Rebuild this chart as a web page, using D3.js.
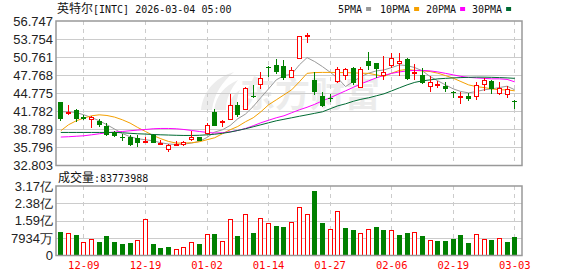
<!DOCTYPE html>
<html>
<head>
<meta charset="utf-8">
<script src="https://cdn.jsdelivr.net/npm/d3@7"></script>
<style>
  body { margin: 0; background: #fff; }
  svg { display: block; }
</style>
</head>
<body>
<div id="chart"></div>
<script>
// trading days shown on the chart
var dates = ["12-04","12-05","12-08","12-09","12-10","12-11","12-12","12-15","12-16","12-17",
  "12-18","12-19","12-22","12-23","12-24","12-26","12-29","12-30","12-31","01-02",
  "01-05","01-06","01-07","01-08","01-09","01-12","01-13","01-14","01-15","01-16",
  "01-20","01-21","01-22","01-23","01-26","01-27","01-28","01-29","01-30","02-02",
  "02-03","02-04","02-05","02-06","02-09","02-10","02-11","02-12","02-13","02-17",
  "02-18","02-19","02-20","02-23","02-24","02-25","02-26","02-27","03-02","03-03"];

var open  = [43.30,41.31,41.92,40.87,40.32,40.21,39.38,38.34,37.56,37.56,37.34,36.74,37.78,36.40,35.41,36.13,36.13,36.95,37.45,38.06,
  41.75,39.99,40.32,42.75,41.97,44.34,46.11,49.08,49.47,49.30,47.38,50.52,54.32,46.99,44.40,44.07,46.71,47.71,49.03,45.72,
  50.19,49.75,47.60,49.30,49.69,50.46,48.20,47.82,45.89,46.00,46.05,45.00,44.18,44.34,44.23,46.16,46.82,44.62,44.51,43.52];
var high  = [43.35,42.75,42.14,41.20,41.04,40.43,39.77,38.55,38.00,37.78,37.78,37.56,38.00,37.00,36.35,36.79,36.90,38.44,37.56,39.82,
  42.20,40.38,44.73,43.30,45.89,46.16,48.37,49.30,50.46,50.30,49.20,54.32,54.71,48.26,44.95,44.68,49.20,49.03,49.20,49.20,
  51.67,49.86,51.00,51.51,51.40,50.68,49.58,48.92,47.65,46.82,46.71,45.17,44.95,44.78,46.71,47.38,46.93,46.60,45.94,43.63];
var low   = [40.21,41.25,39.99,40.27,39.00,39.22,37.67,37.45,36.90,36.07,35.80,36.63,36.46,36.13,35.03,36.02,36.02,36.90,36.79,38.00,
  39.38,39.16,40.27,40.76,41.92,43.96,45.50,47.43,47.93,46.93,47.27,50.41,53.16,44.51,42.42,43.30,46.55,47.05,46.16,45.61,
  48.59,47.27,46.93,48.92,47.71,46.99,47.05,46.33,45.06,45.61,44.95,44.07,42.97,43.52,43.68,45.17,44.62,44.51,44.07,42.20];
var close = [40.54,41.64,40.49,40.59,40.76,39.55,37.90,37.67,37.45,36.13,36.46,36.90,36.55,36.48,36.24,36.41,36.68,37.45,36.90,39.50,
  39.40,40.10,42.75,41.20,45.67,44.18,47.32,48.97,48.37,47.27,48.59,54.27,54.43,45.06,42.58,43.96,48.85,48.75,46.50,48.81,
  49.30,48.81,48.26,50.57,50.19,47.16,48.37,46.44,46.71,46.27,45.50,44.84,44.29,43.85,46.16,46.93,45.50,45.61,45.50,43.30];
var prevClose = 41.20;

// volume, in 亿 shares
var volume = [1.085,1.03,0.95,0.62,0.74,0.63,0.89,0.63,0.52,0.57,0.69,1.65,0.52,0.34,0.39,0.28,0.37,0.62,0.52,0.98,
  1.00,0.66,1.65,0.89,1.89,1.04,1.71,1.48,1.35,1.30,1.51,2.20,1.89,2.94,1.48,1.19,2.02,1.25,1.16,1.01,
  1.19,1.30,1.16,1.15,0.93,1.03,1.06,0.89,0.69,0.66,0.66,0.75,0.93,0.57,0.97,0.74,0.71,0.78,0.62,0.8377];

var ma5  = [41.70,41.70,41.58,41.20,40.76,40.21,39.55,38.84,38.11,37.57,37.24,37.07,36.90,36.57,36.36,36.29,36.36,36.52,36.79,37.45,
  38.34,38.72,39.43,40.54,41.32,42.57,44.06,45.50,46.99,47.70,47.93,49.47,50.68,50.02,49.19,48.26,47.27,45.88,46.71,47.54,
  48.10,48.48,48.64,49.03,49.47,49.36,49.03,48.48,47.54,46.83,46.16,45.50,45.06,44.84,45.06,45.34,45.50,45.72,45.95,45.34];
var ma10 = [38.56,39.55,40.21,40.66,41.04,41.20,41.09,40.82,40.38,39.83,39.10,38.44,37.78,37.24,36.79,36.52,36.52,36.57,36.74,37.07,
  37.40,38.06,38.72,39.27,40.05,40.71,41.70,42.86,43.68,44.51,45.34,46.66,48.07,48.20,48.23,48.23,48.20,48.20,48.15,48.10,
  48.07,47.82,47.57,48.10,48.56,48.73,48.56,48.48,48.37,48.10,47.70,47.27,46.71,46.16,45.88,45.72,45.50,45.34,45.34,45.17];
var ma20 = [37.52,37.57,37.65,37.73,37.89,38.06,38.23,38.34,38.44,38.56,38.67,38.77,38.89,38.94,38.94,38.89,38.77,38.61,38.44,38.28,
  38.18,38.23,38.39,38.61,38.94,39.39,39.88,40.30,40.71,41.04,41.54,42.03,42.45,42.94,43.52,44.02,44.60,45.17,45.75,46.33,
  46.83,47.32,47.74,48.07,48.31,48.48,48.56,48.56,48.48,48.31,48.07,47.82,47.57,47.41,47.32,47.24,47.16,47.16,47.07,46.66];
var ma30 = [38.28,38.28,38.28,38.28,38.28,38.28,38.28,38.28,38.23,38.14,38.06,38.01,37.94,37.89,37.85,37.81,37.78,37.78,37.81,37.89,
  37.98,38.14,38.34,38.61,38.89,39.22,39.55,39.88,40.21,40.46,40.71,40.96,41.20,41.45,41.70,42.20,42.69,43.02,43.44,43.77,
  44.02,44.35,44.68,45.17,45.67,46.16,46.58,46.83,46.99,47.16,47.24,47.32,47.37,47.41,47.44,47.44,47.41,47.37,47.32,47.24];

var priceTicks = [32.803,35.796,38.789,41.782,44.775,47.768,50.761,53.754,56.747];
var volTicks = [0,0.7934,1.59,2.38,3.17];
var volTickLabels = ["0","7934万","1.59亿","2.38亿","3.17亿"];
var dateTicks = ["12-09","12-19","01-02","01-14","01-27","02-06","02-19","03-03"];

var maSeries = [
  {name: "5PMA",  values: ma5,  color: "#999999"},
  {name: "10PMA", values: ma10, color: "#f5a000"},
  {name: "20PMA", values: ma20, color: "#ff00ff"},
  {name: "30PMA", values: ma30, color: "#006a33"}
];

var RED = "#ff0000", GREEN = "#008000", GRID = "#cccccc", FRAME = "#999999";
var mono = "'DejaVu Sans Mono', monospace";
var cjk = "'Noto Sans CJK SC', sans-serif";
var axisFont = "'Liberation Sans', Arial, sans-serif";

var W = 578, H = 276;
var left = 56, right = 522;
var priceTop = 21, priceBottom = 165.5;
var volTop = 186, volBottom = 255.5;

var svg = d3.select("#chart").append("svg")
    .attr("width", W)
    .attr("height", H);

var x = d3.scalePoint().domain(dates).range([60.3, 514.3]);
var y = d3.scaleLinear().domain([32.803, 56.747]).range([priceBottom, priceTop]);
var yv = d3.scaleLinear().domain([0, 3.17]).range([volBottom, volTop]);

function px(d) { return Math.round(x(d)); }

// ---- title & legend
var title = svg.append("text").attr("x", 57).attr("y", 13).attr("fill", "#111");
title.append("tspan").style("font-family", cjk).style("font-size", "12px").text("英特尔");
title.append("tspan").style("font-family", mono).style("font-size", "10px").text("[INTC] 2026-03-04 05:00");

var legendX = [338, 380, 426, 472];
maSeries.forEach(function(s, i) {
  svg.append("text")
    .attr("x", legendX[i]).attr("y", 13)
    .style("font-family", mono).style("font-size", "10px")
    .attr("fill", "#111")
    .text(s.name);
  svg.append("rect")
    .attr("x", legendX[i] + s.name.length * 6.02 + 4).attr("y", 7)
    .attr("width", 5).attr("height", 4)
    .attr("fill", s.color);
});

// ---- watermark (logo + name)
var wm = svg.append("g").attr("fill", "#ececec");
wm.append("path").attr("d", "M201,110 C203,92 214,78 234,72 C222,82 214,94 212,110 Z");
wm.append("path").attr("d", "M214,110 C216,96 224,86 238,80 C230,90 226,99 226,110 Z");
wm.append("path").attr("d", "M228,110 C229,101 233,94 240,90 C237,97 236,103 237,110 Z");
wm.append("text")
  .attr("x", 240).attr("y", 107)
  .style("font-family", cjk).style("font-size", "35px").style("font-weight", "bold")
  .text("东方财富");

// ---- price panel grid
var gp = svg.append("g");
gp.selectAll("line.h").data(priceTicks.slice(1, -1)).enter().append("line")
  .attr("x1", left).attr("x2", right)
  .attr("y1", function(d) { return Math.round(y(d)) + 0.5; })
  .attr("y2", function(d) { return Math.round(y(d)) + 0.5; })
  .attr("stroke", GRID);
gp.selectAll("line.v").data(dateTicks).enter().append("line")
  .attr("x1", function(d) { return px(d) + 0.5; })
  .attr("x2", function(d) { return px(d) + 0.5; })
  .attr("y1", priceTop).attr("y2", priceBottom)
  .attr("stroke", GRID).attr("stroke-dasharray", "4,4");

// ---- volume panel grid
var gv = svg.append("g");
gv.selectAll("line.h").data(volTicks.slice(1, -1)).enter().append("line")
  .attr("x1", left).attr("x2", right)
  .attr("y1", function(d) { return Math.round(yv(d)) + 0.5; })
  .attr("y2", function(d) { return Math.round(yv(d)) + 0.5; })
  .attr("stroke", GRID);
gv.selectAll("line.v").data(dateTicks).enter().append("line")
  .attr("x1", function(d) { return px(d) + 0.5; })
  .attr("x2", function(d) { return px(d) + 0.5; })
  .attr("y1", volTop).attr("y2", volBottom)
  .attr("stroke", GRID).attr("stroke-dasharray", "4,4");

// ---- axes
var yAxis = svg.append("g")
  .attr("transform", "translate(" + (left - 3) + ",0)")
  .call(d3.axisLeft(y).tickValues(priceTicks).tickSize(0).tickPadding(0).tickFormat(d3.format(".3f")));
yAxis.select(".domain").remove();
yAxis.selectAll("text").style("font-family", axisFont).style("font-size", "13px").attr("fill", "#222");

var vAxis = svg.append("g")
  .attr("transform", "translate(" + (left - 3) + ",0)")
  .call(d3.axisLeft(yv).tickValues(volTicks).tickSize(0).tickPadding(0)
    .tickFormat(function(d, i) { return volTickLabels[i]; }));
vAxis.select(".domain").remove();
vAxis.selectAll("text").style("font-family", axisFont).style("font-size", "13px").attr("fill", "#222");

var xAxis = svg.append("g")
  .attr("transform", "translate(0," + (volBottom + 6) + ")")
  .call(d3.axisBottom(x).tickValues(dateTicks).tickSize(0).tickPadding(0));
xAxis.select(".domain").remove();
xAxis.selectAll("text").style("font-family", mono).style("font-size", "10.5px").attr("fill", RED);

// ---- moving averages
maSeries.forEach(function(s) {
  var line = d3.line()
    .x(function(d, i) { return x(dates[i]) + 0.5; })
    .y(function(d) { return y(d); });
  svg.append("path")
    .datum(s.values)
    .attr("d", line)
    .attr("fill", "none")
    .attr("stroke", s.color)
    .attr("stroke-width", 1);
});

// ---- candles
var candles = dates.map(function(d, i) {
  return {date: d, o: open[i], h: high[i], l: low[i], c: close[i]};
});
var cg = svg.append("g").selectAll("g").data(candles).enter().append("g");
cg.append("line")
  .attr("x1", function(d) { return px(d.date) + 0.5; })
  .attr("x2", function(d) { return px(d.date) + 0.5; })
  .attr("y1", function(d) { return Math.round(y(d.h)); })
  .attr("y2", function(d) { return Math.round(y(d.l)); })
  .attr("stroke", function(d) { return d.c >= d.o ? RED : GREEN; });
cg.append("rect")
  .attr("x", function(d) { return d.c >= d.o ? px(d.date) - 2 + 0.5 : px(d.date) - 2; })
  .attr("y", function(d) { return Math.round(y(Math.max(d.o, d.c))) + (d.c >= d.o ? 0.5 : 0); })
  .attr("width", function(d) { return d.c >= d.o ? 4 : 5; })
  .attr("height", function(d) {
    var h = Math.round(y(Math.min(d.o, d.c))) - Math.round(y(Math.max(d.o, d.c)));
    return d.c >= d.o ? Math.max(h - 1, 1) : Math.max(h, 1);
  })
  .attr("fill", function(d) { return d.c >= d.o ? "#fff" : GREEN; })
  .attr("stroke", function(d) { return d.c >= d.o ? RED : "none"; });

// ---- volume bars (colour follows close vs previous close)
var vols = dates.map(function(d, i) {
  var pc = i === 0 ? prevClose : close[i - 1];
  return {date: d, v: volume[i], up: close[i] >= pc};
});
svg.append("g").selectAll("rect").data(vols).enter().append("rect")
  .attr("x", function(d) { return d.up ? px(d.date) - 2 + 0.5 : px(d.date) - 2; })
  .attr("y", function(d) { return Math.round(yv(d.v)) + (d.up ? 0.5 : 0); })
  .attr("width", function(d) { return d.up ? 4 : 5; })
  .attr("height", function(d) { return Math.round(volBottom) - Math.round(yv(d.v)) - (d.up ? 1 : 0); })
  .attr("fill", function(d) { return d.up ? "#fff" : GREEN; })
  .attr("stroke", function(d) { return d.up ? RED : "none"; });

// ---- frames
svg.append("rect")
  .attr("x", left).attr("y", priceTop)
  .attr("width", right - left).attr("height", priceBottom - priceTop)
  .attr("fill", "none").attr("stroke", FRAME).attr("stroke-width", 1.5);
svg.append("rect")
  .attr("x", left).attr("y", volTop)
  .attr("width", right - left).attr("height", volBottom - volTop)
  .attr("fill", "none").attr("stroke", FRAME).attr("stroke-width", 1.5);

// ---- volume caption
var cap = svg.append("text").attr("x", 58).attr("y", 182).attr("fill", "#111");
cap.append("tspan").style("font-family", cjk).style("font-size", "12px").text("成交量");
cap.append("tspan").style("font-family", mono).style("font-size", "10px").text(":83773988");
</script>
</body>
</html>
